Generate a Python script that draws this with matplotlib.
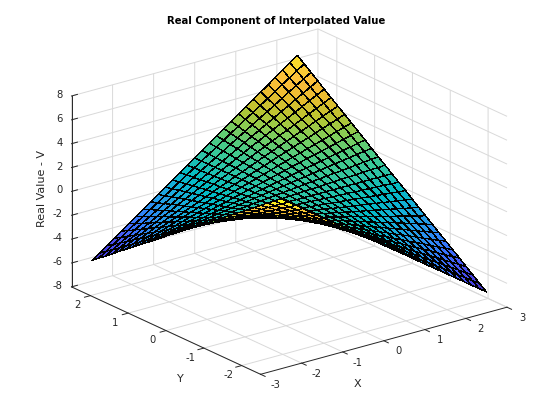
"""
Saddle surface in the style of a MATLAB surf plot.
"""

import matplotlib
matplotlib.use("Agg")
import matplotlib.pyplot as plt
import numpy as np
from matplotlib.colors import LinearSegmentedColormap, Normalize
from matplotlib.transforms import Affine2D
from mpl_toolkits.mplot3d import proj3d

# non-negative half of the sample positions, same on both axes
HALF_GRID = [0.0, 0.18, 0.36, 0.54, 0.71, 0.89, 1.07, 1.25, 1.43, 1.61, 1.79, 1.96, 2.14, 2.32, 2.5]

# surface heights for the x >= 0, y >= 0 quadrant (rows: y, columns: x)
QUADRANT = [
    [0.0] * 15,
    [0.0, 0.03, 0.06, 0.10, 0.13, 0.16, 0.19, 0.22, 0.26, 0.29, 0.32, 0.35, 0.38, 0.41, 0.45],
    [0.0, 0.06, 0.13, 0.19, 0.26, 0.32, 0.38, 0.45, 0.51, 0.57, 0.64, 0.70, 0.77, 0.83, 0.89],
    [0.0, 0.10, 0.19, 0.29, 0.38, 0.48, 0.57, 0.67, 0.77, 0.86, 0.96, 1.05, 1.15, 1.24, 1.34],
    [0.0, 0.13, 0.26, 0.38, 0.51, 0.64, 0.77, 0.89, 1.02, 1.15, 1.28, 1.40, 1.53, 1.66, 1.79],
    [0.0, 0.16, 0.32, 0.48, 0.64, 0.80, 0.96, 1.12, 1.28, 1.43, 1.59, 1.75, 1.91, 2.07, 2.23],
    [0.0, 0.19, 0.38, 0.57, 0.77, 0.96, 1.15, 1.34, 1.53, 1.72, 1.91, 2.10, 2.30, 2.49, 2.68],
    [0.0, 0.22, 0.45, 0.67, 0.89, 1.12, 1.34, 1.56, 1.79, 2.01, 2.23, 2.46, 2.68, 2.90, 3.13],
    [0.0, 0.26, 0.51, 0.77, 1.02, 1.28, 1.53, 1.79, 2.04, 2.30, 2.55, 2.81, 3.06, 3.32, 3.57],
    [0.0, 0.29, 0.57, 0.86, 1.15, 1.43, 1.72, 2.01, 2.30, 2.58, 2.87, 3.16, 3.44, 3.73, 4.02],
    [0.0, 0.32, 0.64, 0.96, 1.28, 1.59, 1.91, 2.23, 2.55, 2.87, 3.19, 3.51, 3.83, 4.15, 4.46],
    [0.0, 0.35, 0.70, 1.05, 1.40, 1.75, 2.10, 2.46, 2.81, 3.16, 3.51, 3.86, 4.21, 4.56, 4.91],
    [0.0, 0.38, 0.77, 1.15, 1.53, 1.91, 2.30, 2.68, 3.06, 3.44, 3.83, 4.21, 4.59, 4.97, 5.36],
    [0.0, 0.41, 0.83, 1.24, 1.66, 2.07, 2.49, 2.90, 3.32, 3.73, 4.15, 4.56, 4.97, 5.39, 5.80],
    [0.0, 0.45, 0.89, 1.34, 1.79, 2.23, 2.68, 3.13, 3.57, 4.02, 4.46, 4.91, 5.36, 5.80, 6.25],
]

X_TICKS = [-3, -2, -1, 0, 1, 2, 3]
Y_TICKS = [-2, -1, 0, 1, 2]
Z_TICKS = [-8, -6, -4, -2, 0, 2, 4, 6, 8]

PARULA = [
    (0.2422, 0.1504, 0.6603), (0.2783, 0.2559, 0.8991), (0.2760, 0.3667, 0.9829),
    (0.1963, 0.4847, 0.9892), (0.1540, 0.5902, 0.9218), (0.0952, 0.6798, 0.8598),
    (0.0067, 0.7312, 0.7660), (0.1717, 0.7670, 0.6554), (0.2906, 0.7973, 0.5188),
    (0.5044, 0.7993, 0.3480), (0.7242, 0.7698, 0.1910), (0.9035, 0.7330, 0.1774),
    (0.9956, 0.7434, 0.2371), (0.9786, 0.8386, 0.1766), (0.9769, 0.9839, 0.0805),
]

TEXT_COLOR = (0.15, 0.15, 0.15)
GRID_COLOR = (0.85, 0.85, 0.85)
FIG_W, FIG_H = 560, 420

plt.rcParams.update({
    "font.family": "DejaVu Sans",
    "font.size": 7.2,
    "axes.unicode_minus": False,
    "grid.color": GRID_COLOR,
    "grid.linewidth": 0.7,
    "axes.edgecolor": TEXT_COLOR,
    "axes.linewidth": 0.7,
    "xtick.color": TEXT_COLOR,
    "ytick.color": TEXT_COLOR,
    "xtick.major.width": 0.7,
    "ytick.major.width": 0.7,
    "axes.labelcolor": TEXT_COLOR,
    "axes.labelsize": 8,
})


def mirror_quadrant(quadrant):
    q = np.asarray(quadrant, dtype=float)
    return np.block([[q[:0:-1, :0:-1], -q[:0:-1, :]], [-q[:, :0:-1], q]])


def fit_axes_to_box(ax):
    # stretch the axes rectangle so the box corners land where the MATLAB box does
    corners_px = {"front": (263.3, 374.3), "left": (71.5, 286.0), "right": (507.0, 308.3), "top": (72.3, 96.0)}
    xs = np.array([-3, -3, 3, -3])
    ys = np.array([-2.5, 2.5, -2.5, 2.5])
    zs = np.array([-8, -8, -8, 8])
    u, v, _ = proj3d.proj_transform(xs, ys, zs, ax.get_proj())

    scale_x = (corners_px["right"][0] - corners_px["left"][0]) / (u[2] - u[1])
    scale_y = (corners_px["top"][1] - corners_px["front"][1]) / (v[0] - v[3])

    x0, x1 = ax.viewLim.intervalx
    y0, y1 = ax.viewLim.intervaly
    width = (x1 - x0) * scale_x
    height = (y1 - y0) * scale_y
    left = corners_px["left"][0] - (u[1] - x0) * scale_x
    bottom = (FIG_H - corners_px["front"][1]) - (v[0] - y0) * scale_y
    ax.set_position([left / FIG_W, bottom / FIG_H, width / FIG_W, height / FIG_H])
    ax.apply_aspect = lambda position=None: None


def nudge_text(ax, axis, tick_offset, label_offset):
    # mplot3d resets text transforms while drawing, so shift through get_transform
    tick_trans = ax.transData + Affine2D().translate(*tick_offset)
    label_trans = ax.transData + Affine2D().translate(*label_offset)
    for tick in axis.get_major_ticks():
        tick.label1.get_transform = lambda: tick_trans
    axis.label.get_transform = lambda: label_trans


def main():
    half = np.asarray(HALF_GRID)
    grid = np.concatenate([-half[:0:-1], half])
    x, y = np.meshgrid(grid, grid)
    z = mirror_quadrant(QUADRANT)

    cmap = LinearSegmentedColormap.from_list("parula", PARULA)
    norm = Normalize(z.min(), z.max())

    fig = plt.figure(figsize=(FIG_W / 100, FIG_H / 100), dpi=100)
    ax = fig.add_subplot(projection="3d", proj_type="ortho")
    ax.view_init(elev=30, azim=-127.5)
    ax.set_box_aspect((1, 1, 1))
    ax.set_xlim(-3, 3, view_margin=0)
    ax.set_ylim(-2.5, 2.5, view_margin=0)
    ax.set_zlim(-8, 8, view_margin=0)
    fit_axes_to_box(ax)

    surf = ax.plot_surface(
        x, y, z, rstride=1, cstride=1, facecolors=cmap(norm(z)),
        edgecolor="black", linewidth=0.2, shade=False,
    )
    surf.set_antialiased(False)

    ax.set_xticks(X_TICKS)
    ax.set_yticks(Y_TICKS)
    ax.set_zticks(Z_TICKS)
    ax.tick_params(axis="x", pad=-1)
    ax.tick_params(axis="y", pad=-1)
    ax.tick_params(axis="z", pad=0)

    for axis in (ax.xaxis, ax.yaxis, ax.zaxis):
        axis.set_pane_color((1, 1, 1, 0))
        axis.pane.set_edgecolor(GRID_COLOR)
        axis._axinfo["tick"]["inward_factor"] = 0.3
        axis._axinfo["tick"]["outward_factor"] = 0.0
    ax.zaxis._axinfo["tick"]["inward_factor"] = 0.0
    ax.zaxis._axinfo["tick"]["outward_factor"] = 0.3

    ax.set_xlabel("X", labelpad=0)
    ax.set_ylabel("Y", labelpad=0)
    ax.zaxis.set_rotate_label(False)
    ax.set_zlabel("Real Value - V", rotation=90, labelpad=2)

    for label in ax.get_zticklabels():
        label.set_ha("right")

    nudge_text(ax, ax.xaxis, (7, 6), (-50, -8))
    nudge_text(ax, ax.yaxis, (-3, 6), (45, -16))
    nudge_text(ax, ax.zaxis, (12, 5), (30, 0))

    fig.text(276 / FIG_W, 1 - 21 / FIG_H, "Real Component of Interpolated Value",
             ha="center", va="center", fontsize=7.3, fontweight="bold", color="black")

    fig.savefig("out.png", dpi=100)
    plt.close(fig)


if __name__ == "__main__":
    main()
